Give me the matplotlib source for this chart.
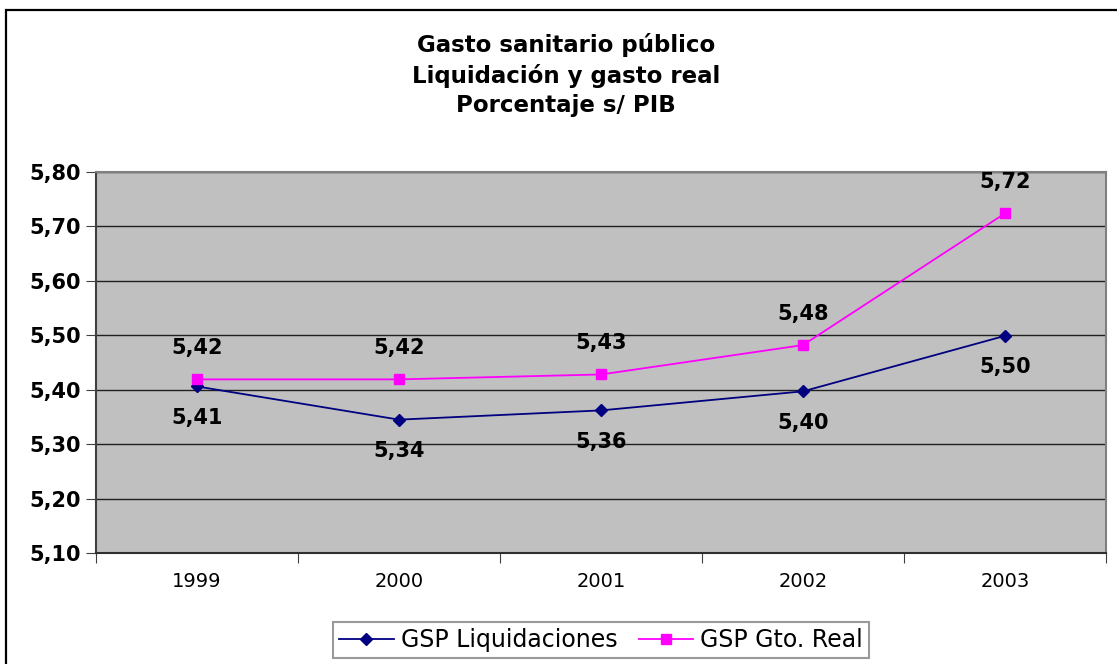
import matplotlib.pyplot as plt
from matplotlib.patches import Rectangle

years = ['1999', '2000', '2001', '2002', '2003']
liquidaciones = [5.406, 5.345, 5.362, 5.397, 5.499]
gto_real = [5.419, 5.419, 5.428, 5.482, 5.724]
yticks = [5.10, 5.20, 5.30, 5.40, 5.50, 5.60, 5.70, 5.80]

fig = plt.figure(figsize=(11.17, 6.64), dpi=100)
# outer chart border
fig.patches.append(Rectangle((6 / 1117, -0.05), 1.2, 1 - 9.5 / 664 + 0.05,
                             transform=fig.transFigure, fill=False,
                             edgecolor='black', linewidth=1.6))

ax = fig.add_axes([96 / 1117, 1 - 553 / 664, 1010 / 1117, 381 / 664])
ax.set_facecolor('#C0C0C0')
x = list(range(len(years)))

ax.plot(x, liquidaciones, color='#000080', marker='D', markersize=6, linewidth=1.3,
        label='GSP Liquidaciones')
ax.plot(x, gto_real, color='#FF00FF', marker='s', markersize=7, linewidth=1.3,
        label='GSP Gto. Real')

for xi, v in zip(x, liquidaciones):
    ax.annotate(f'{v:.2f}'.replace('.', ','), (xi, v), xytext=(0, -22.5),
                textcoords='offset points', ha='center', va='center',
                fontsize=15, fontweight='bold')
for xi, v in zip(x, gto_real):
    ax.annotate(f'{v:.2f}'.replace('.', ','), (xi, v), xytext=(0, 22.5),
                textcoords='offset points', ha='center', va='center',
                fontsize=15, fontweight='bold')

ax.set_xlim(-0.5, 4.5)
ax.set_ylim(5.10, 5.80)
ax.set_yticks(yticks)
ax.set_yticklabels([f'{t:.2f}'.replace('.', ',') for t in yticks],
                   fontsize=15, fontweight='bold')
ax.yaxis.grid(True, color='#202020', linewidth=1)
ax.set_axisbelow(True)

# category labels centred, ticks between categories
ax.set_xticks([i - 0.5 for i in range(len(years) + 1)])
ax.set_xticklabels([])
ax.set_xticks(x, minor=True)
ax.set_xticklabels(years, minor=True, fontsize=14)
ax.tick_params(axis='x', which='minor', length=0, pad=14)
ax.tick_params(axis='x', which='major', length=7, color='#404040')
ax.tick_params(axis='y', length=7, color='#404040', pad=4)

for side in ['top', 'right']:
    ax.spines[side].set_color('#808080')
    ax.spines[side].set_linewidth(1.5)
ax.spines['left'].set_color('#404040')
ax.spines['left'].set_linewidth(1.5)
ax.spines['bottom'].set_color('#303030')
ax.spines['bottom'].set_linewidth(1.5)

fig.text(566 / 1117, 1 - 75 / 664,
         'Gasto sanitario público\nLiquidación y gasto real\nPorcentaje s/ PIB',
         ha='center', va='center', fontsize=16.5, fontweight='bold', linespacing=1.35)

leg = fig.legend(loc='upper center', bbox_to_anchor=(601 / 1117, 1 - 622 / 664), ncol=2,
                 fontsize=17, frameon=True, fancybox=False, handlelength=2.3,
                 handletextpad=0.3, columnspacing=0.9, borderpad=0.25,
                 borderaxespad=0)
leg.get_frame().set_edgecolor('#808080')
leg.get_frame().set_linewidth(1.5)

fig.savefig('out.png', dpi=100)
